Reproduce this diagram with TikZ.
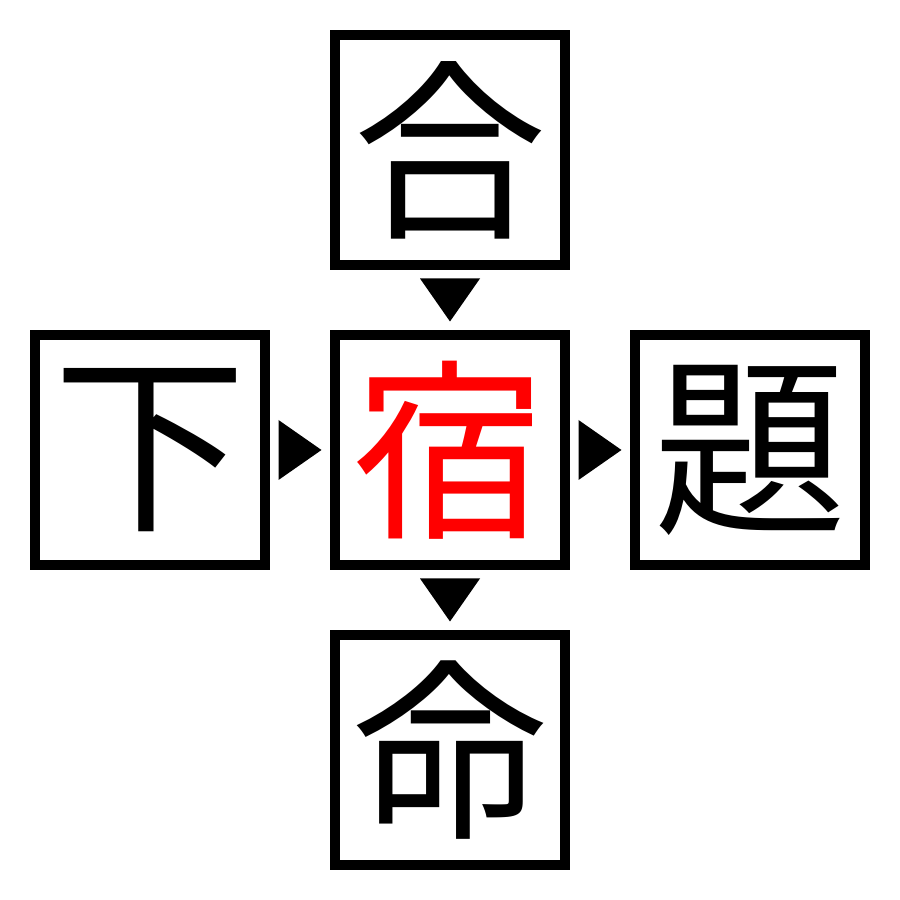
\documentclass[tikz,border=0pt]{standalone}
\usepackage{fontspec}
\newfontfamily\cjk{Noto Sans CJK JP}
\usetikzlibrary{calc}

\begin{document}
\begin{tikzpicture}[scale=1
    , every node/.style={}
    , kanji/.style={draw
        , line width=0.1cm
        , minimum size=2.3cm
        , inner sep=0pt
        , font=\cjk\fontsize{55}{55}\selectfont
        }
    , pointer/.style={fill=black}
    ]

    \useasboundingbox (0,0) rectangle (9,9);

    % the five boxes
    \node[kanji] (top) at (4.5,7.5) {合};
    \node[kanji, text=red] (mid) at (4.5,4.5) {宿};
    \node[kanji] (left) at (1.5,4.5) {下};
    \node[kanji] (right) at (7.5,4.5) {題};
    \node[kanji] (bottom) at (4.5,1.5) {命};

    %% Triangles between them.
    \coordinate (tm) at ($(top.south)!0.5!(mid.north)$);
    \coordinate (mb) at ($(mid.south)!0.5!(bottom.north)$);
    \coordinate (lm) at ($(left.east)!0.5!(mid.west)$);
    \coordinate (mr) at ($(mid.east)!0.5!(right.west)$);
    \fill[pointer] (tm) ++(-0.3,0.215) -- ++(0.6,0) -- ++(-0.3,-0.43) -- cycle;
    \fill[pointer] (mb) ++(-0.3,0.215) -- ++(0.6,0) -- ++(-0.3,-0.43) -- cycle;
    \fill[pointer] (lm) ++(-0.215,0.3) -- ++(0,-0.6) -- ++(0.43,0.3) -- cycle;
    \fill[pointer] (mr) ++(-0.215,0.3) -- ++(0,-0.6) -- ++(0.43,0.3) -- cycle;

\end{tikzpicture}
\end{document}
